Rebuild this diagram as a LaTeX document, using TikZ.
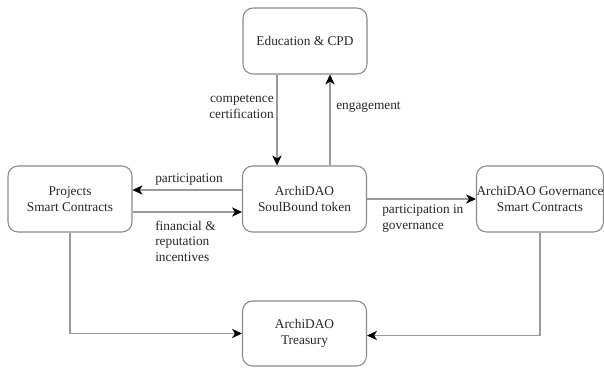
\documentclass[tikz,border=0pt]{standalone}
\usepackage{fontspec}
\setmainfont{Liberation Serif}
\usetikzlibrary{arrows.meta,calc}
\definecolor{linegray}{HTML}{9A9A9A}
\definecolor{boxgray}{HTML}{8A8A8A}
\definecolor{txt}{HTML}{262626}
\tikzset{
  box/.style={draw=boxgray, line width=0.8pt, rounded corners=7.5pt, minimum width=93pt, minimum height=49.5pt, inner sep=0pt, align=center, text=txt, font=\fontsize{10}{11.6}\selectfont},
  lbl/.style={text=txt, font=\fontsize{10}{11.6}\selectfont, inner sep=0pt},
  arr/.style={draw=linegray, line width=0.8pt, -{Stealth[black, length=7.5pt, width=7pt, inset=2.2pt]}}
}
\begin{document}
\begin{tikzpicture}[x=0.75pt, y=-0.75pt]
\useasboundingbox (0,0) rectangle (604,369);
\node[box] (edu) at (305,41) {Education \& CPD};
\node[box] (sbt) at (304.5,199) {ArchiDAO\\SoulBound token};
\node[box] (proj) at (70,199) {Projects\\Smart Contracts};
\node[box] (gov) at (540,199) {ArchiDAO Governance\\Smart Contracts};
\node[box, minimum height=48.75pt] (tre) at (304.5,333.5) {ArchiDAO\\Treasury};

\draw[arr] ($(edu.south)+(-28,0)$) -- ($(sbt.north)+(-27.5,0)$);
\draw[arr] ($(sbt.north)+(25.5,0)$) -- ($(edu.south)+(25,0)$);
\draw[arr] ($(sbt.west)+(0,-9)$) -- ($(proj.east)+(0,-9)$);
\draw[arr] ($(proj.east)+(0,13)$) -- ($(sbt.west)+(0,13)$);
\draw[arr] (sbt.east) -- (gov.west);
\draw[arr] (proj.south) |- (tre.west);
\draw[arr] (gov.south) |- ($(tre.east)+(0,2)$);

\node[lbl, anchor=east, align=right] (lcc) at (274,107) {competence\\certification};
\node[lbl, anchor=west] (leng) at (336,107) {engagement};
\node[lbl] (lpart) at (189,179) {participation};
\node[lbl, anchor=west, align=left] (lfin) at (155,241) {financial \&\\reputation\\incentives};
\node[lbl, anchor=west, align=left] (lgov) at (382,218.5) {participation in\\governance};
\end{tikzpicture}
\end{document}
